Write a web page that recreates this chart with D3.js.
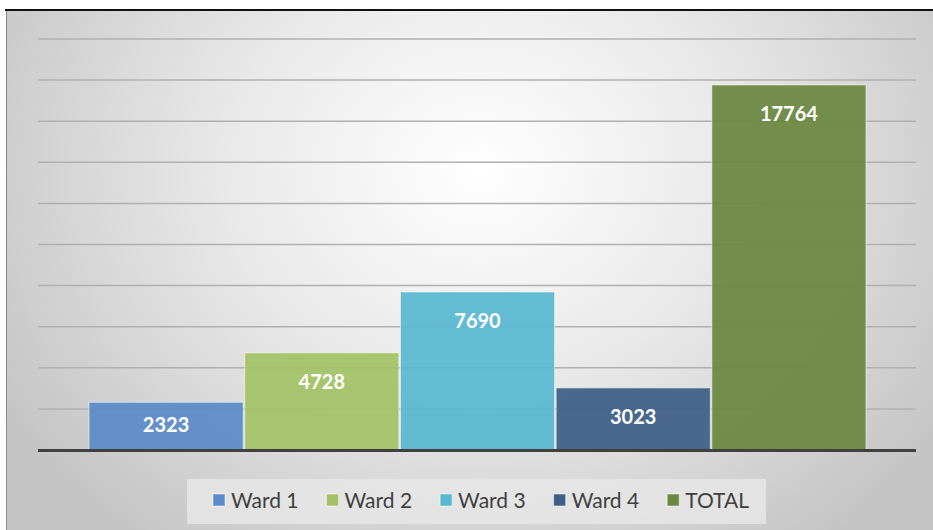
<!DOCTYPE html>
<html>
<head>
<meta charset="utf-8">
<script src="https://cdn.jsdelivr.net/npm/d3@7"></script>
<style>
  html, body { margin: 0; padding: 0; background: #fff; }
  svg { display: block; }
</style>
</head>
<body>
<div id="chart"></div>
<script>
// data
const series = ['Ward 1', 'Ward 2', 'Ward 3', 'Ward 4', 'TOTAL'];
const values = [2323, 4728, 7690, 3023, 17764];
const colors = ['#5b8bc8', '#a3c266', '#58b8d1', '#3e5f87', '#6b8740'];
const gridTicks = d3.range(2000, 20001, 2000);

const width = 933, height = 530;

const svg = d3.select('#chart')
    .append('svg')
    .attr('width', width)
    .attr('height', height);

// background gradient (light centre, grey edges)
const defs = svg.append('defs');
const grad = defs.append('radialGradient')
    .attr('id', 'bg')
    .attr('gradientUnits', 'userSpaceOnUse')
    .attr('cx', 480).attr('cy', 170).attr('r', 560)
    .attr('gradientTransform', 'translate(480,170) scale(1,0.85) translate(-480,-170)');
grad.append('stop').attr('offset', '0%').attr('stop-color', '#ffffff');
grad.append('stop').attr('offset', '45%').attr('stop-color', '#e9e9e9');
grad.append('stop').attr('offset', '100%').attr('stop-color', '#c4c4c4');

svg.append('rect')
    .attr('x', 7).attr('y', 11)
    .attr('width', width - 7).attr('height', height - 11)
    .attr('fill', 'url(#bg)');

// frame lines
svg.append('line')
    .attr('x1', 5).attr('x2', width).attr('y1', 10).attr('y2', 10)
    .attr('stroke', '#111').attr('stroke-width', 2);
svg.append('line')
    .attr('x1', 6.5).attr('x2', 6.5).attr('y1', 11).attr('y2', height)
    .attr('stroke', '#8a8a8a').attr('stroke-width', 1);

// scales
const x = d3.scaleBand()
    .domain(series)
    .range([89, 866])
    .paddingInner(0.01);

const y = d3.scaleLinear()
    .domain([0, 20000])
    .range([450, 39]);

// gridlines
svg.append('g')
    .selectAll('line')
    .data(gridTicks)
    .join('line')
    .attr('x1', 38).attr('x2', 916)
    .attr('y1', d => y(d)).attr('y2', d => y(d))
    .attr('stroke', '#b0b0b0')
    .attr('stroke-width', 1.5);

// bars
svg.append('g')
    .selectAll('rect')
    .data(values)
    .join('rect')
    .attr('x', (d, i) => x(series[i]))
    .attr('y', d => y(d))
    .attr('width', x.bandwidth())
    .attr('height', d => y(0) - y(d))
    .attr('fill', (d, i) => colors[i])
    .attr('fill-opacity', 0.93)
    .attr('stroke', 'rgba(255,255,255,0.55)')
    .attr('stroke-width', 1);

// value labels
svg.append('g')
    .selectAll('text')
    .data(values)
    .join('text')
    .attr('x', (d, i) => x(series[i]) + x.bandwidth() / 2)
    .attr('y', d => Math.min(y(d) + 36, y(0) - 18))
    .attr('text-anchor', 'middle')
    .attr('fill', '#fff')
    .attr('font-family', 'Lato, "Noto Sans", sans-serif')
    .attr('font-weight', 'bold')
    .attr('font-size', '20px')
    .text(d => d);

// axis baseline
svg.append('line')
    .attr('x1', 38).attr('x2', 916)
    .attr('y1', y(0) + 0.5).attr('y2', y(0) + 0.5)
    .attr('stroke', '#404040')
    .attr('stroke-width', 3);

// legend
svg.append('rect')
    .attr('x', 187).attr('y', 479)
    .attr('width', 579).attr('height', 45)
    .attr('fill', '#e6e6e6')
    .attr('fill-opacity', 0.85);

const legend = svg.append('g');
const items = legend.selectAll('g')
    .data(series)
    .join('g');

items.append('rect')
    .attr('x', 0)
    .attr('width', 12).attr('height', 12)
    .attr('y', 494)
    .attr('fill', (d, i) => colors[i])
    .attr('stroke', 'rgba(255,255,255,0.5)');

items.append('text')
    .attr('y', 508)
    .attr('x', 18)
    .attr('fill', '#404040')
    .attr('font-family', 'Lato, "Noto Sans", sans-serif')
    .attr('font-size', '21px')
    .text(d => d);

// lay out legend items from measured text widths
const gap = 28;
let offsets = [], cur = 0;
items.each(function() {
    const w = d3.select(this).select('text').node().getComputedTextLength();
    offsets.push(cur);
    cur += 18 + w + gap;
});
const total = cur - gap;
const startX = 481 - total / 2;
items.attr('transform', (d, i) => `translate(${startX + offsets[i]},0)`);
</script>
</body>
</html>
